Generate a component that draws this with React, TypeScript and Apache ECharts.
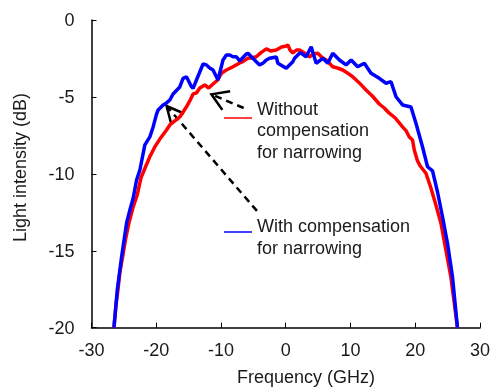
import { useEffect, useRef } from "react";
import * as echarts from "echarts";

const redX = [-26.53,-26.22,-25.92,-25.61,-25.19,-24.76,-24.22,-23.61,-22.94,-22.37,
-21.60,-20.99,-20.22,-19.45,-18.41,-17.90,-17.13,-16.36,-15.33,-14.82,
-14.31,-13.79,-13.28,-12.51,-11.90,-11.23,-10.51,-9.89,-9.17,-8.15,
-7.12,-6.61,-5.89,-5.27,-4.55,-3.88,-3.00,-2.34,-1.46,-0.65,
0.08,0.32,0.66,1.09,1.66,2.13,2.90,3.67,4.28,4.95,
5.52,6.24,7.26,7.98,8.80,9.52,10.34,11.37,12.40,13.37,
14.45,15.22,15.99,16.92,18.04,18.61,19.08,19.58,19.85,20.35,
20.77,21.65,22.42,23.19,23.96,24.73,25.50,26.01,26.52];
const redY = [-20.0,-18.52,-17.55,-16.38,-15.39,-14.30,-13.19,-12.22,-11.37,-10.27,
-9.49,-8.88,-8.25,-7.74,-7.15,-6.82,-6.56,-6.30,-5.64,-5.26,
-4.81,-4.74,-4.42,-4.22,-4.42,-4.16,-3.90,-3.44,-3.25,-3.04,
-2.79,-2.71,-2.49,-2.47,-2.39,-2.14,-1.88,-2.01,-1.95,-1.75,
-1.69,-1.62,-1.95,-2.14,-1.95,-1.95,-2.14,-2.39,-2.21,-2.16,
-2.40,-2.60,-3.04,-3.12,-3.25,-3.44,-3.69,-4.09,-4.55,-4.94,
-5.46,-5.72,-6.06,-6.37,-6.95,-7.21,-7.60,-7.80,-8.45,-9.16,
-9.49,-9.96,-10.92,-12.02,-13.19,-14.95,-16.70,-18.33,-20.0];

const blueX = [-26.53,-26.02,-25.35,-24.58,-24.07,-23.56,-23.04,-22.53,-21.76,-20.99,
-20.48,-19.95,-19.71,-18.94,-18.41,-17.90,-17.40,-16.36,-15.86,-15.33,
-15.08,-14.56,-14.31,-13.79,-13.28,-12.77,-12.25,-11.74,-11.23,-10.71,
-10.46,-9.69,-9.17,-8.66,-8.15,-7.63,-7.12,-6.09,-5.84,-5.07,
-4.55,-4.04,-3.53,-3.00,-2.50,-1.46,-1.22,0.08,1.09,1.36,
2.13,2.39,3.16,3.93,4.70,5.72,6.49,7.26,8.29,9.32,
10.09,11.11,12.14,13.17,14.45,15.49,16.26,17.03,18.04,19.34,
20.11,21.12,21.90,22.67,23.44,24.21,24.98,25.75,26.52];
const blueY = [-20.0,-17.55,-15.39,-13.19,-12.35,-11.57,-10.40,-9.75,-8.12,-7.60,
-6.95,-6.11,-5.85,-5.52,-5.39,-5.20,-4.81,-4.35,-3.79,-3.70,
-3.90,-4.34,-4.44,-3.90,-3.38,-2.86,-2.92,-3.12,-3.25,-3.69,
-3.90,-2.60,-2.27,-2.27,-2.39,-2.39,-2.66,-2.21,-2.16,-2.49,
-2.71,-2.92,-2.81,-2.60,-2.49,-2.40,-2.81,-3.14,-2.71,-2.49,
-2.16,-2.16,-2.39,-1.74,-2.81,-2.49,-2.81,-2.16,-2.60,-2.92,
-2.60,-3.04,-2.81,-3.46,-3.79,-4.11,-4.01,-4.99,-5.52,-5.65,
-6.71,-8.24,-9.54,-9.81,-11.18,-12.79,-14.51,-16.69,-20.0];

const seriesNames = ["Without compensation for narrowing", "With compensation for narrowing"];
const legendTexts = ["Without\ncompensation\nfor narrowing", "With compensation\nfor narrowing"];
const seriesColors = ["#ff0000", "#0000ff"];
const xTitle = "Frequency (GHz)";
const yTitle = "Light intensity (dB)";

// annotation arrows in data coordinates: tip, tail
const arrowTips = [[-11.48, -4.83], [-18.41, -5.59]];
const arrowTails = [[-6.5, -5.72], [-4.45, -12.41]];

const FONT = "'Liberation Sans', Arial, Helvetica, sans-serif";
const TXT = "#1a1a1a";

export default function App() {
  const ref = useRef<HTMLDivElement>(null);
  useEffect(() => {
    const chart = echarts.init(ref.current!, null, { renderer: "svg" });
    const zip = (xs: number[], ys: number[]) => xs.map((x, i) => [x, ys[i]]);
    chart.setOption({
      animation: false,
      grid: { left: 91.5, right: 12.3, top: 20, bottom: 59.3 },
      xAxis: {
        type: "value", min: -30, max: 30, interval: 10,
        axisLine: { onZero: false, lineStyle: { color: "#000", width: 1.5 } },
        axisTick: { inside: true, length: 5, lineStyle: { color: "#000", width: 1 } },
        axisLabel: { margin: 13, fontSize: 18, color: TXT, fontFamily: FONT },
        splitLine: { show: false },
      },
      yAxis: {
        type: "value", min: -20, max: 0, interval: 5,
        axisLine: { show: true, onZero: false, lineStyle: { color: "#000", width: 1.5 } },
        axisTick: { show: true, inside: true, length: 5, lineStyle: { color: "#000", width: 1 } },
        axisLabel: { margin: 17, fontSize: 18, color: TXT, fontFamily: FONT },
        splitLine: { show: false },
      },
      series: [
        { name: seriesNames[0], type: "line", data: zip(redX, redY), showSymbol: false, symbol: "none",
          lineStyle: { color: seriesColors[0], width: 3.5 }, itemStyle: { color: seriesColors[0] } },
        { name: seriesNames[1], type: "line", data: zip(blueX, blueY), showSymbol: false, symbol: "none",
          lineStyle: { color: seriesColors[1], width: 3.5 }, itemStyle: { color: seriesColors[1] } },
      ],
    });

    const g: any[] = [];
    // axis titles
    g.push({ type: "text", x: 306, y: 376.5, style: { text: xTitle, font: `18px ${FONT}`, fill: TXT, align: "center", verticalAlign: "middle" } });
    g.push({ type: "text", x: 20, y: 167.5, rotation: Math.PI / 2, style: { text: yTitle, font: `18px ${FONT}`, fill: TXT, align: "center", verticalAlign: "middle" } });
    // legends
    const legTop = [98, 215.3];
    const legLineY = [118, 232];
    for (let i = 0; i < 2; i++) {
      g.push({ type: "line", shape: { x1: 224, y1: legLineY[i], x2: 252, y2: legLineY[i] }, style: { stroke: seriesColors[i], lineWidth: 1.5 } });
      g.push({ type: "text", x: 257, y: legTop[i], style: { text: legendTexts[i], font: `18px ${FONT}`, fill: TXT, lineHeight: 21.5, align: "left", verticalAlign: "top" } });
    }
    // arrows
    const heads = [32, 26];
    for (let i = 0; i < arrowTips.length; i++) {
      const tip = chart.convertToPixel({ gridIndex: 0 }, arrowTips[i]) as number[];
      const tail = chart.convertToPixel({ gridIndex: 0 }, arrowTails[i]) as number[];
      const dx = tail[0] - tip[0], dy = tail[1] - tip[1];
      const len = Math.hypot(dx, dy);
      const ux = dx / len, uy = dy / len;
      const a = (heads[i] * Math.PI) / 180;
      const L = 19;
      const rot = (s: number) => [tip[0] + L * (ux * Math.cos(s * a) - uy * Math.sin(s * a)), tip[1] + L * (ux * Math.sin(s * a) + uy * Math.cos(s * a))];
      g.push({ type: "line", shape: { x1: tail[0], y1: tail[1], x2: tip[0] + ux * 2, y2: tip[1] + uy * 2 }, style: { stroke: "#000", lineWidth: 2.5, lineDash: [7, 5] } });
      g.push({ type: "polyline", shape: { points: [rot(1), tip, rot(-1)] }, style: { stroke: "#000", lineWidth: 2.5, fill: "none" } });
    }
    chart.setOption({ graphic: g });
    return () => chart.dispose();
  }, []);
  return <div ref={ref} style={{ position: "fixed", left: 0, top: 0, width: 493, height: 387 }} />;
}
